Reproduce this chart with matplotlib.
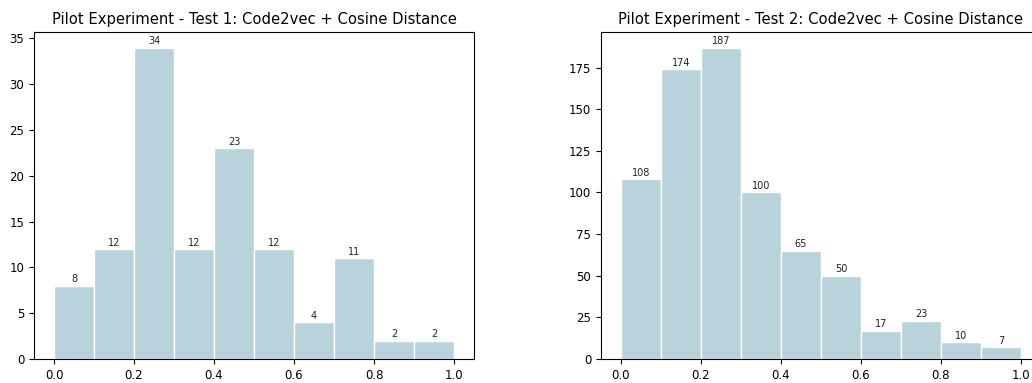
import matplotlib
matplotlib.use("Agg")
import matplotlib.pyplot as plt

# bin edges and counts per test
bin_edges = [0.0, 0.1, 0.2, 0.3, 0.4, 0.5, 0.6, 0.7, 0.8, 0.9, 1.0]
test1_counts = [8, 12, 34, 12, 23, 12, 4, 11, 2, 2]
test2_counts = [108, 174, 187, 100, 65, 50, 17, 23, 10, 7]
titles = ["Pilot Experiment - Test 1: Code2vec + Cosine Distance",
          "Pilot Experiment - Test 2: Code2vec + Cosine Distance"]

bar_color = "#b9d3dc"

fig = plt.figure(figsize=(10.32, 3.83), dpi=100)
ax1 = fig.add_axes([34 / 1032, 24 / 383, 440 / 1032, 327 / 383])
ax2 = fig.add_axes([601 / 1032, 24 / 383, 440 / 1032, 327 / 383])

for ax, counts, title in zip([ax1, ax2], [test1_counts, test2_counts], titles):
    n, bins, patches = ax.hist(bin_edges[:-1], bins=bin_edges, weights=counts,
                               color=bar_color, edgecolor="white", linewidth=1)
    ax.bar_label(patches, fontsize=7, padding=1, color="#222222")
    ax.set_title(title, fontsize=10.6)
    ax.tick_params(labelsize=8.5)

fig.savefig("out.png", dpi=100)
